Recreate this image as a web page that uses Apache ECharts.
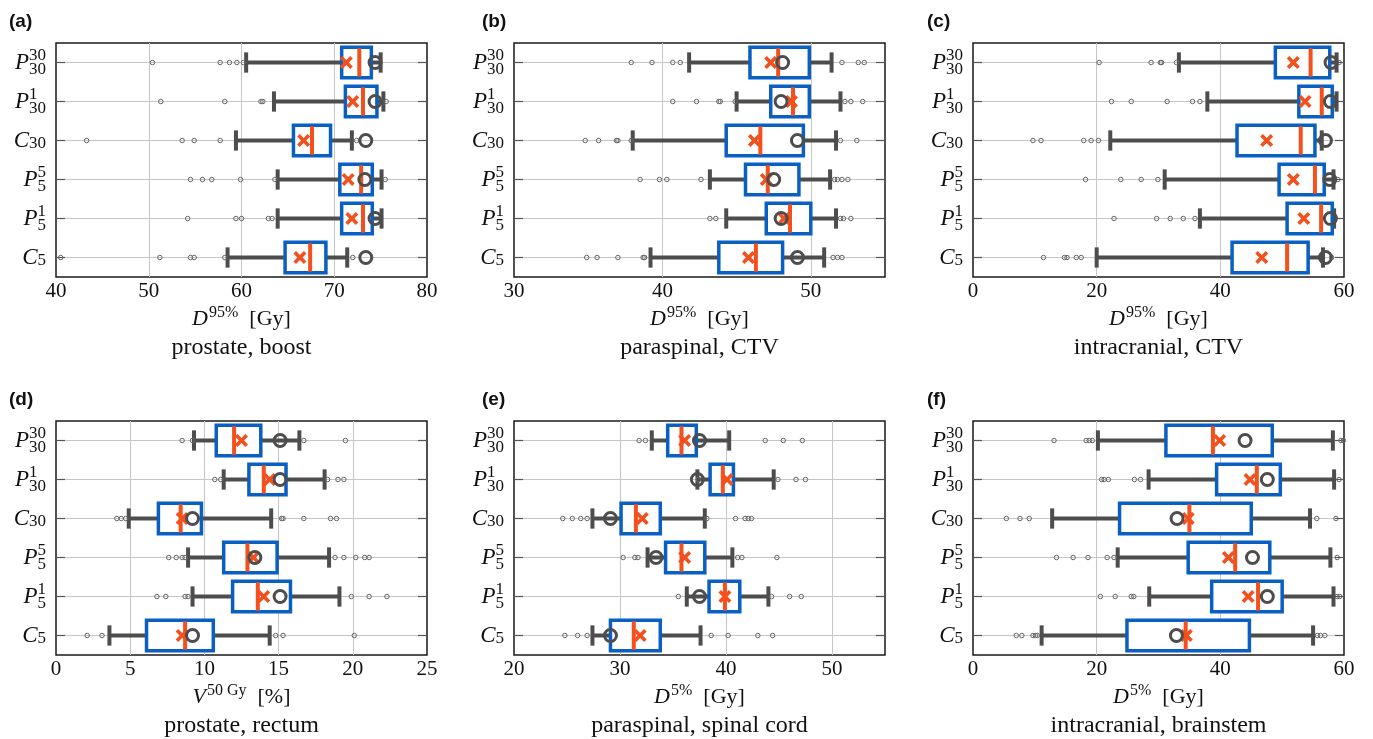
<!DOCTYPE html>
<html>
<head>
<meta charset="utf-8">
<script src="https://cdn.jsdelivr.net/npm/echarts@6/dist/echarts.min.js"></script>
<style>
  html, body { margin: 0; padding: 0; background: #fff; }
  #chart { width: 1373px; height: 739px; }
</style>
</head>
<body>
<div id="chart"></div>
<script>
// categories, bottom to top
const categories = ['C5', 'P5_1', 'P5_5', 'C30', 'P30_1', 'P30_30']
// [letter, superscript, subscript]
const catText = {
  C5: ['C', '', '5'], P5_1: ['P', '1', '5'], P5_5: ['P', '5', '5'],
  C30: ['C', '', '30'], P30_1: ['P', '1', '30'], P30_30: ['P', '30', '30'],
}

// box rows: [lower whisker, q1, median, q3, upper whisker]
// (a) prostate, boost
const boxA = [[58.5, 64.7, 67.4, 69.1, 71.4], [63.9, 70.8, 73.1, 74.1, 75.1], [63.9, 70.6, 72.9, 74.1, 75.1],
              [59.4, 65.6, 67.6, 69.6, 71.9], [63.5, 71.2, 73.1, 74.6, 75.3], [60.5, 70.8, 72.7, 74.0, 75.0]]
const meanA = [66.3, 71.9, 71.5, 66.7, 72.0, 71.3]
const circA = [73.4, 74.4, 73.3, 73.4, 74.4, 74.4]
const outA = [[40.5, 51.2, 54.5, 54.9, 58.2, 72.0], [54.2, 59.4, 60.0, 62.9, 63.3], [54.5, 55.8, 56.8, 59.9, 63.6, 75.5],
              [43.3, 53.6, 54.9, 57.7, 72.4], [51.3, 58.2, 62.1, 62.3, 75.6], [50.4, 57.7, 58.7, 59.5, 60.2]]

// (b) paraspinal, CTV
const boxB = [[39.2, 43.8, 46.3, 48.1, 50.9], [44.3, 47.0, 48.6, 50.0, 51.7], [43.2, 45.6, 47.1, 49.2, 51.3],
              [38.0, 44.3, 46.6, 49.5, 51.7], [45.0, 47.3, 48.8, 49.9, 52.0], [41.8, 45.9, 47.8, 49.9, 51.4]]
const meanB = [45.8, 48.2, 47.0, 46.2, 48.7, 47.3]
const circB = [49.1, 48.0, 47.5, 49.1, 48.0, 48.1]
const outB = [[34.9, 35.6, 37.0, 38.7, 38.8, 51.5, 51.8, 52.1], [43.2, 43.6, 52.0, 52.2, 52.7],
              [38.5, 39.8, 40.3, 42.6, 51.6, 51.8, 52.1, 52.5], [34.8, 35.7, 36.9, 37.0, 37.9, 52.0, 53.1],
              [40.7, 42.3, 43.8, 43.9, 44.9, 52.3, 52.7, 53.5], [37.9, 39.3, 40.7, 41.2, 52.1, 53.2, 53.6]]

// (c) intracranial, CTV
const boxC = [[20.0, 41.9, 50.8, 54.2, 56.6], [36.7, 50.8, 56.3, 58.1, 58.4], [31.0, 49.5, 55.3, 56.8, 58.3],
              [22.2, 42.7, 53.0, 55.3, 56.4], [37.9, 52.7, 56.4, 58.1, 58.8], [33.3, 48.9, 54.6, 57.7, 58.8]]
const meanC = [46.7, 53.5, 51.8, 47.5, 53.7, 51.8]
const circC = [57.0, 57.8, 57.7, 57.0, 57.8, 57.9]
const outC = [[11.4, 14.8, 15.2, 16.7, 17.5, 58.0], [22.8, 29.7, 31.9, 34.0, 35.9], [18.2, 23.9, 27.2, 29.9, 59.0],
              [9.7, 11.0, 17.9, 19.1, 20.3], [22.4, 25.6, 31.4, 35.5, 36.7], [20.4, 28.8, 30.3, 30.5, 32.9, 59.2]]

// (d) prostate, rectum
const boxD = [[3.6, 6.1, 8.7, 10.6, 14.4], [9.2, 11.9, 13.6, 15.8, 19.1], [8.9, 11.3, 12.9, 14.9, 18.4],
              [4.9, 6.9, 8.4, 9.8, 14.5], [11.3, 13.0, 14.0, 15.5, 18.1], [9.3, 10.8, 12.0, 13.8, 16.4]]
const meanD = [8.5, 14.0, 13.3, 8.5, 14.4, 12.5]
const circD = [9.2, 15.1, 13.4, 9.2, 15.1, 15.1]
const outD = [[2.1, 3.1, 14.8, 15.3, 20.1], [6.8, 7.4, 8.7, 8.9, 19.9, 21.1, 22.3],
              [7.6, 8.1, 8.5, 8.7, 18.8, 19.4, 20.2, 20.8, 21.1], [4.1, 4.4, 4.7, 15.2, 15.3, 16.7, 18.5, 18.9],
              [10.7, 11.1, 18.3, 19.0, 19.4], [8.5, 9.2, 16.7, 19.5]]

// (e) paraspinal, spinal cord
const boxE = [[27.4, 29.1, 31.3, 33.8, 37.6], [36.3, 38.4, 39.9, 41.3, 44.0], [32.6, 34.3, 35.8, 38.0, 40.6],
              [27.4, 30.1, 31.5, 33.8, 38.0], [37.3, 38.5, 39.7, 40.7, 44.5], [33.0, 34.5, 35.8, 37.2, 40.3]]
const meanE = [31.9, 39.9, 36.1, 32.1, 40.1, 36.1]
const circE = [29.1, 37.5, 33.4, 29.1, 37.3, 37.5]
const outE = [[24.8, 26.0, 26.9, 38.6, 40.2, 43.0, 44.4], [35.5, 44.3, 46.0, 47.1], [30.3, 31.4, 31.7, 41.1, 41.5, 44.8],
              [24.6, 25.5, 26.3, 26.9, 38.2, 40.9, 41.8, 42.1, 42.4], [37.4, 44.9, 46.6, 47.5], [31.8, 32.4, 43.7, 45.4, 47.2]]

// (f) intracranial, brainstem
const boxF = [[11.1, 24.9, 34.4, 44.7, 55.0], [28.5, 38.6, 46.1, 50.0, 58.3], [23.4, 34.8, 42.4, 48.0, 57.8],
              [12.8, 23.7, 35.0, 45.0, 54.5], [28.4, 39.4, 45.9, 49.7, 58.4], [20.2, 31.2, 38.8, 48.4, 58.2]]
const meanF = [34.5, 44.5, 41.3, 34.8, 44.8, 39.9]
const circF = [32.9, 47.6, 45.2, 33.0, 47.6, 44.0]
const outF = [[7.0, 7.9, 9.7, 10.1, 10.4, 55.7, 56.2, 56.9], [20.6, 23.0, 25.6, 26.0, 58.9, 59.3],
              [13.5, 16.2, 18.6, 21.7, 22.8, 58.9], [5.4, 7.6, 9.1, 55.6, 58.7],
              [20.8, 21.2, 21.9, 26.1, 27.1, 59.2], [13.1, 18.3, 18.8, 19.3, 59.5, 59.9]]

const panels = [
  { tag: '(a)', tagX: 9, box: boxA, mean: meanA, circ: circA, out: outA, min: 40, max: 80, step: 10,
    name: ['D', '95%', '[Gy]'], sub: 'prostate, boost', left: 56, top: 43 },
  { tag: '(b)', tagX: 482, box: boxB, mean: meanB, circ: circB, out: outB, min: 30, max: 55, step: 10,
    name: ['D', '95%', '[Gy]'], sub: 'paraspinal, CTV', left: 514, top: 43 },
  { tag: '(c)', tagX: 927, box: boxC, mean: meanC, circ: circC, out: outC, min: 0, max: 60, step: 20,
    name: ['D', '95%', '[Gy]'], sub: 'intracranial, CTV', left: 973, top: 43 },
  { tag: '(d)', tagX: 9, box: boxD, mean: meanD, circ: circD, out: outD, min: 0, max: 25, step: 5,
    name: ['V', '50 Gy', '[%]'], sub: 'prostate, rectum', left: 56, top: 421 },
  { tag: '(e)', tagX: 482, box: boxE, mean: meanE, circ: circE, out: outE, min: 20, max: 55, step: 10,
    name: ['D', '5%', '[Gy]'], sub: 'paraspinal, spinal cord', left: 514, top: 421 },
  { tag: '(f)', tagX: 927, box: boxF, mean: meanF, circ: circF, out: outF, min: 0, max: 60, step: 20,
    name: ['D', '5%', '[Gy]'], sub: 'intracranial, brainstem', left: 973, top: 421 },
]

const FONT = "'Liberation Serif', 'Times New Roman', serif"
const BLUE = '#0a5fc2', RED = '#f4501e', GREY = '#4d4d4d', GRIDC = '#c6c6c6'
const W = 371, H = 234
const XMARK = 'path://M0,2L2,0L5,3L8,0L10,2L7,5L10,8L8,10L5,7L2,10L0,8L3,5Z'

const chart = echarts.init(document.getElementById('chart'))
const grid = [], xAxis = [], yAxis = [], series = [], title = []

function renderBox(params, api) {
  const c = api.value(0)
  const cs = params.coordSys
  const px = k => api.coord([api.value(k), c])[0]
  const yc = api.coord([api.value(1), c])[1]
  const band = api.size([0, 1])[1]
  const bh = band * 0.78, ch = band * 0.52
  const ln = (x1, y1, x2, y2, stroke, w) => ({ type: 'line', shape: { x1, y1, x2, y2 }, style: { stroke, lineWidth: w } })
  const [xl, xq1, xm, xq3, xh] = [px(1), px(2), px(3), px(4), px(5)]
  return {
    type: 'group',
    children: [
      ln(cs.x, yc, cs.x + cs.width, yc, GRIDC, 1),
      ln(cs.x, yc, cs.x + 9, yc, '#555', 1.2),
      ln(cs.x + cs.width - 9, yc, cs.x + cs.width, yc, '#555', 1.2),
      ln(xl, yc, xq1, yc, GREY, 4),
      ln(xq3, yc, xh, yc, GREY, 4),
      ln(xl, yc - ch / 2, xl, yc + ch / 2, GREY, 4),
      ln(xh, yc - ch / 2, xh, yc + ch / 2, GREY, 4),
      { type: 'rect', shape: { x: xq1, y: yc - bh / 2, width: xq3 - xq1, height: bh },
        style: { fill: '#fff', stroke: BLUE, lineWidth: 3.5 } },
      ln(xm, yc - bh / 2 + 1, xm, yc + bh / 2 - 1, RED, 4),
    ],
  }
}

panels.forEach((p, i) => {
  grid.push({ left: p.left, top: p.top, width: W, height: H, show: true,
    borderColor: '#1a1a1a', borderWidth: 1.5, backgroundColor: 'transparent' })

  xAxis.push({
    type: 'value', gridIndex: i, min: p.min, max: p.max, interval: p.step,
    axisLine: { show: false }, axisTick: { show: false },
    splitLine: { show: true, showMinLine: false, showMaxLine: false, lineStyle: { color: GRIDC, width: 1 } },
    axisLabel: { fontFamily: FONT, fontSize: 21, color: '#111', margin: 4,
      showMaxLabel: p.max % p.step === 0,
      formatter: v => `{n|${v}}`,
      rich: { n: { fontFamily: FONT, fontSize: 21, color: '#111' } } },
    name: `{it|${p.name[0]}}{sup|${p.name[1]}}{rm|  ${p.name[2]}}`,
    nameLocation: 'middle', nameGap: 28,
    nameTextStyle: {
      rich: {
        it: { fontFamily: FONT, fontStyle: 'italic', fontSize: 22, color: '#111' },
        sup: { fontFamily: FONT, fontSize: 16, color: '#111', padding: [0, 0, 12, 1] },
        rm: { fontFamily: FONT, fontSize: 22, color: '#111' },
      },
    },
  })

  const yBase = { type: 'category', gridIndex: i, data: categories, position: 'left', offset: 0,
    axisLine: { show: false }, axisTick: { show: false }, splitLine: { show: false } }
  // main letter, with a transparent copy of the subscript so scripts sit after it
  yAxis.push({ ...yBase, axisLabel: { interval: 0, margin: 10,
    formatter: v => `{m|${catText[v][0]}}{g|${catText[v][2]}}`,
    rich: {
      m: { fontFamily: FONT, fontStyle: 'italic', fontSize: 23, color: '#111' },
      g: { fontFamily: FONT, fontSize: 17, color: 'rgba(0,0,0,0)' },
    } } })
  // superscript (left aligned with subscript)
  yAxis.push({ ...yBase, axisLabel: { interval: 0, margin: 10,
    formatter: v => {
      const [, sp, sb] = catText[v]
      if (!sp) return ''
      const pad = sb.slice(sp.length)
      return `{s|${sp}}` + (pad ? `{g|${pad}}` : '')
    },
    rich: {
      s: { fontFamily: FONT, fontSize: 17, color: '#111', padding: [0, 0, 13, 0] },
      g: { fontFamily: FONT, fontSize: 17, color: 'rgba(0,0,0,0)', padding: [0, 0, 13, 0] },
    } } })
  // subscript
  yAxis.push({ ...yBase, axisLabel: { interval: 0, margin: 10,
    formatter: v => catText[v][1] ? `{lo|${catText[v][2]}}` : `{mid|${catText[v][2]}}`,
    rich: {
      lo: { fontFamily: FONT, fontSize: 17, color: '#111', padding: [15, 0, 0, 0] },
      mid: { fontFamily: FONT, fontSize: 17, color: '#111', padding: [6, 0, 0, 0] },
    } } })

  const yi = i * 3
  series.push({
    type: 'custom', xAxisIndex: i, yAxisIndex: yi, z: 2, silent: true,
    encode: { x: [1, 2, 3, 4, 5], y: 0 },
    data: p.box.map((b, c) => [c, ...b]),
    renderItem: renderBox,
  })
  series.push({
    type: 'scatter', xAxisIndex: i, yAxisIndex: yi, z: 3, silent: true,
    symbol: 'circle', symbolSize: 4.5,
    itemStyle: { color: 'rgba(255,255,255,0)', borderColor: '#666', borderWidth: 1, opacity: 1 },
    data: p.out.flatMap((vals, c) => vals.map(v => [v, c])),
  })
  series.push({
    type: 'scatter', xAxisIndex: i, yAxisIndex: yi, z: 4, silent: true,
    symbol: XMARK, symbolSize: 13,
    itemStyle: { color: RED, opacity: 1 },
    data: p.mean.map((v, c) => [v, c]),
  })
  series.push({
    type: 'scatter', xAxisIndex: i, yAxisIndex: yi, z: 5, silent: true,
    symbol: 'circle', symbolSize: 12,
    itemStyle: { color: 'rgba(255,255,255,0)', borderColor: GREY, borderWidth: 3, opacity: 1 },
    data: p.circ.map((v, c) => [v, c]),
  })

  title.push({ text: p.tag, left: p.tagX, top: p.top - 31, padding: 0,
    textStyle: { fontFamily: 'Liberation Sans', fontWeight: 'bold', fontSize: 19, color: '#111' } })
  title.push({ text: p.sub, left: p.left + W / 2, top: p.top + H + 59, padding: 0, textAlign: 'center',
    textStyle: { fontFamily: FONT, fontWeight: 'normal', fontSize: 24, color: '#111' } })
})

chart.setOption({
  animation: false,
  backgroundColor: '#fff',
  textStyle: { fontFamily: FONT },
  title, grid, xAxis, yAxis, series,
})
window.addEventListener('resize', () => chart.resize())
</script>
</body>
</html>
